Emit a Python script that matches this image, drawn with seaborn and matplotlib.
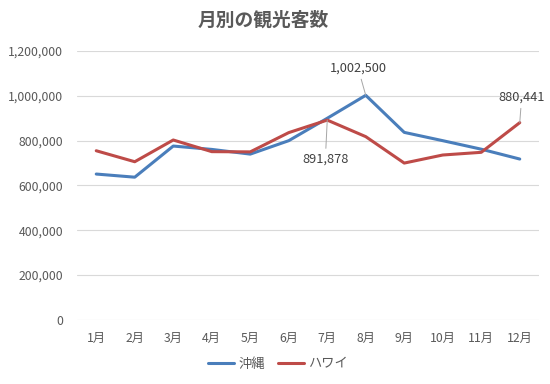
import numpy as np
import pandas as pd
import seaborn as sns
import matplotlib.pyplot as plt
from matplotlib.ticker import FuncFormatter

# Data
months = ["1月", "2月", "3月", "4月", "5月", "6月", "7月", "8月", "9月", "10月", "11月", "12月"]
okinawa = [651000, 637000, 776000, 761000, 740000, 800000, 900000, 1002500, 837000, 800000, 762000, 718000]
hawaii = [755000, 706000, 803000, 751000, 750000, 836000, 891878, 818000, 700000, 736000, 748000, 880441]
series_names = ["沖縄", "ハワイ"]

df = pd.DataFrame({
    "month": months * 2,
    "visitors": okinawa + hawaii,
    "area": [series_names[0]] * 12 + [series_names[1]] * 12,
})

sns.set_theme(style="white")
plt.rcParams["font.family"] = ["Noto Sans CJK JP", "DejaVu Sans"]

text_gray = "#595959"
grid_gray = "#D9D9D9"

fig = plt.figure(figsize=(5.5, 3.84), dpi=100)
ax = fig.add_axes([0.14, 0.167, 0.84, 0.70])

sns.lineplot(data=df, x="month", y="visitors", hue="area", sort=False,
             palette=["#4A7EBB", "#BE4B48"], linewidth=2.2, ax=ax)

ax.set_ylim(0, 1200000)
ax.set_yticks(np.arange(0, 1200001, 200000))
ax.yaxis.set_major_formatter(FuncFormatter(lambda v, p: f"{int(v):,}"))
ax.set_xlim(-0.5, len(months) - 0.5)
ax.grid(axis="y", color=grid_gray, linewidth=0.8)
ax.set_axisbelow(True)
for s in ax.spines.values():
    s.set_visible(False)
ax.tick_params(axis="both", length=0, labelsize=8.8, labelcolor=text_gray, pad=9)
ax.tick_params(axis="y", pad=10)
ax.set_xlabel("")
ax.set_ylabel("")

fig.text(0.478, 0.948, "月別の観光客数", fontsize=13.5, color=text_gray,
         fontweight="bold", ha="center", va="center")

# data labels with leader lines
labels = [(7, okinawa[7], -0.2, 1095000, "bottom"),
          (6, hawaii[6], -0.05, 745000, "top"),
          (11, hawaii[11], 0.05, 965000, "bottom")]
for xi, yv, dx, ty, va in labels:
    ax.annotate(f"{yv:,}", xy=(xi, yv), xytext=(xi + dx, ty), ha="center", va=va,
                fontsize=9.2, color="#404040",
                arrowprops=dict(arrowstyle="-", color="#A6A6A6", lw=0.7, shrinkA=1, shrinkB=0))

leg = ax.legend(loc="center", bbox_to_anchor=(0.505, 0.052), bbox_transform=fig.transFigure,
                ncol=2, frameon=False, fontsize=9.5, handlelength=2.0, columnspacing=1.0,
                handletextpad=0.3)
for t in leg.get_texts():
    t.set_color(text_gray)

fig.savefig("out.png", dpi=100)
